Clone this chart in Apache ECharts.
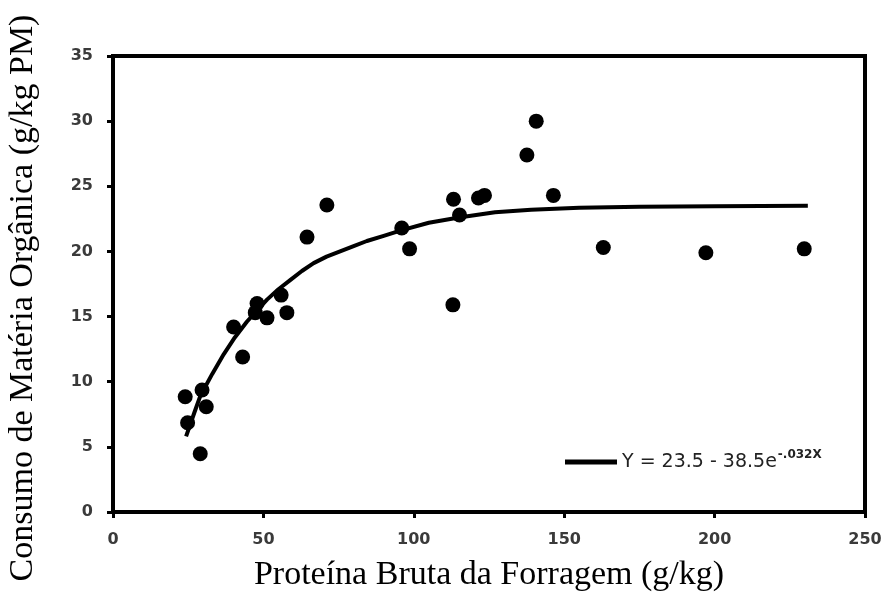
<!DOCTYPE html>
<html>
<head>
<meta charset="utf-8">
<script src="https://cdn.jsdelivr.net/npm/echarts@6/dist/echarts.min.js"></script>
<style>html,body{margin:0;padding:0;background:#fff;}#c{width:883px;height:597px;}</style>
</head>
<body>
<div id="c"></div>
<script>
// Observed points: protein (g/kg) and OM intake (g/kg PM)
var obsX = [24.0, 29.6, 31.0, 24.8, 29.0, 40.1, 43.1, 47.9, 47.3, 51.2, 55.9, 57.8, 64.5, 71.1, 96.0, 98.6, 113.0, 113.2, 115.2, 121.5, 123.5, 137.6, 140.7, 146.4, 163.0, 197.1, 229.8];
var obsY = [8.85, 9.36, 8.08, 6.85, 4.47, 14.2, 11.9, 16.0, 15.3, 14.9, 16.65, 15.3, 21.1, 23.56, 21.8, 20.2, 15.9, 24.0, 22.8, 24.1, 24.3, 27.4, 30.0, 24.3, 20.3, 19.9, 20.2];
// Fitted curve, points
var fitX = [24.3, 27, 29, 33, 36.8, 40.5, 44.5, 48, 51.2, 55, 58.9, 62.8, 66.7, 71, 75.5, 80, 84.4, 90, 95.5, 105, 115, 127, 139, 155, 175, 200, 231];
var fitY = [5.8, 7.6, 8.9, 10.6, 12.1, 13.4, 14.6, 15.5, 16.3, 17.1, 17.8, 18.5, 19.1, 19.6, 20.0, 20.4, 20.8, 21.2, 21.6, 22.2, 22.6, 23.0, 23.2, 23.35, 23.42, 23.47, 23.5];
var xTicks = [0, 50, 100, 150, 200, 250];
var yTicks = [0, 5, 10, 15, 20, 25, 30, 35];
var xTitle = 'Proteína Bruta da Forragem (g/kg)';
var yTitle = 'Consumo de Matéria Orgânica (g/kg PM)';
var legendMain = 'Y = 23.5 - 38.5e';
var legendSup = '-.032X';

var obs = obsX.map(function (x, i) { return [x, obsY[i]]; });
var fit = fitX.map(function (x, i) { return [x, fitY[i]]; });

var chart = echarts.init(document.getElementById('c'));
chart.setOption({
  animation: false,
  backgroundColor: '#fff',
  grid: { left: 113, right: 18, top: 56, bottom: 85, containLabel: false, outerBoundsMode: 'none', show: true, borderColor: '#000', borderWidth: 4, backgroundColor: 'transparent' },
  xAxis: {
    type: 'value', min: xTicks[0], max: xTicks[xTicks.length - 1], interval: 50,
    name: xTitle, nameLocation: 'middle', nameGap: 46,
    nameTextStyle: { fontFamily: 'Liberation Serif', fontSize: 34, color: '#000' },
    axisLine: { lineStyle: { color: '#000', width: 4 } },
    axisTick: { show: true, length: 6, lineStyle: { color: '#000', width: 3 } },
    axisLabel: { margin: 20, fontFamily: 'DejaVu Sans', fontWeight: 'bold', fontSize: 16, color: '#3a3a3a' },
    splitLine: { show: false }
  },
  yAxis: {
    type: 'value', min: yTicks[0], max: yTicks[yTicks.length - 1], interval: 5,
    axisLine: { lineStyle: { color: '#000', width: 4 } },
    axisTick: { show: true, length: 6, lineStyle: { color: '#000', width: 3 } },
    axisLabel: { margin: 20, fontFamily: 'DejaVu Sans', fontWeight: 'bold', fontSize: 16, color: '#3a3a3a' },
    splitLine: { show: false }
  },
  graphic: [{
    type: 'text', x: 40, y: 298, rotation: Math.PI / 2, silent: true,
    style: { text: yTitle, font: '34px "Liberation Serif"', fill: '#000', textAlign: 'center', textVerticalAlign: 'bottom', align: 'center', verticalAlign: 'bottom' }
  }],
  legend: {
    data: ['fit'], left: 560, top: 444, icon: 'rect', itemWidth: 52, itemHeight: 5, itemGap: 10,
    formatter: function () { return '{a|' + legendMain + '}{b|' + legendSup + '}'; },
    textStyle: {
      rich: {
        a: { fontFamily: 'DejaVu Sans', fontSize: 19, color: '#222', lineHeight: 26 },
        b: { fontFamily: 'DejaVu Sans', fontWeight: 'bold', fontSize: 12, color: '#222', verticalAlign: 'top', lineHeight: 26, padding: [0, 0, 10, 1] }
      }
    }
  },
  series: [
    { name: 'obs', type: 'scatter', data: obs, symbol: 'circle', symbolSize: 15, itemStyle: { color: '#000', opacity: 1 }, z: 3 },
    { name: 'fit', type: 'line', data: fit, smooth: false, showSymbol: false, symbol: 'none', lineStyle: { color: '#000', width: 4, join: 'round' }, itemStyle: { color: '#000' }, z: 2 }
  ]
});
</script>
</body>
</html>
